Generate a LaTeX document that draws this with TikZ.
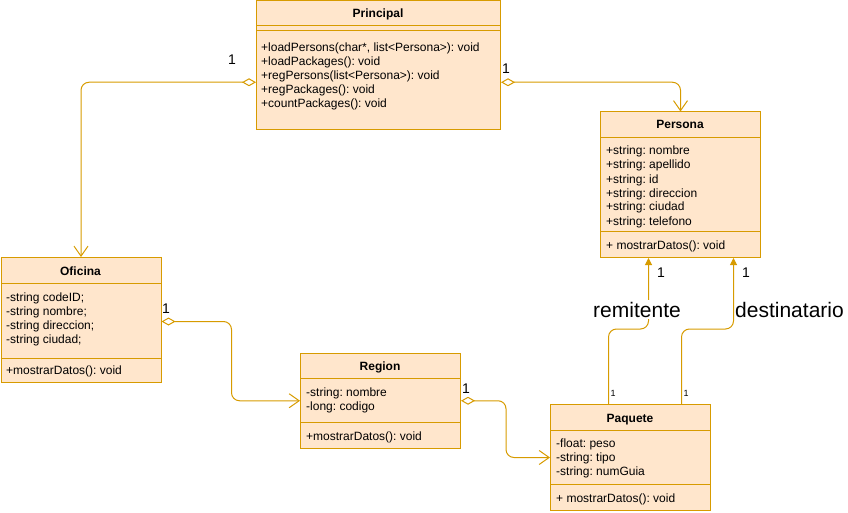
\documentclass[tikz,border=0pt]{standalone}
\usepackage{fontspec}
\setmainfont{Liberation Sans}
\usetikzlibrary{arrows.meta}
\definecolor{cfill}{HTML}{FFE6CC}
\definecolor{cline}{HTML}{D79B00}
\frenchspacing
\tikzset{
  classbox/.style={draw=cline, fill=cfill, line width=1pt, anchor=north west, inner sep=0pt, minimum width=160pt},
  divider/.style={draw=cline, line width=1pt},
  ttl/.style={font=\fontsize{12}{14}\selectfont\bfseries, anchor=base, inner sep=0pt},
  mem/.style={font=\fontsize{12}{14}\selectfont, anchor=base west, inner sep=0pt},
  mult/.style={font=\fontsize{14}{16}\selectfont, anchor=base, inner sep=0pt},
  smult/.style={font=\fontsize{9}{10}\selectfont, anchor=base, inner sep=0pt},
  rolelbl/.style={font=\fontsize{21}{24}\selectfont, inner sep=2pt},
  assoc/.style={draw=cline, line width=1pt, rounded corners=8pt,
    {Diamond[open,fill=white,length=14pt,width=8pt]}-{Straight Barb[length=10pt,width=14pt]}},
  navto/.style={draw=cline, line width=1pt, rounded corners=8pt,
    -{Triangle[length=7pt,width=7pt]}}
}
\begin{document}
\begin{tikzpicture}[x=1pt,y=-1pt]
\useasboundingbox (0,0) rectangle (848,513);
% ---------- classes ----------
\node[classbox, minimum width=244pt, minimum height=129.5pt] (principal) at (256,0) {};
\draw[divider] (256,26) -- (500,26);
\draw[divider] (256,31) -- (500,31);
\node[ttl] (principalT) at (378,18) {Principal};
\node[mem] (pm1) at (261,52) {+loadPersons(char*, list<Persona>): void};
\node[mem] (pm2) at (261,66) {+loadPackages(): void};
\node[mem] (pm3) at (261,80) {+regPersons(list<Persona>): void};
\node[mem] (pm4) at (261,94) {+regPackages(): void};
\node[mem] (pm5) at (261,108) {+countPackages(): void};

\node[classbox, minimum height=145.5pt] (persona) at (600,111.5) {};
\draw[divider] (600,137.7) -- (760,137.7);
\draw[divider] (600,231.7) -- (760,231.7);
\node[ttl] (personaT) at (680,129) {Persona};
\node[mem] (pa1) at (606,155) {+string: nombre};
\node[mem] (pa2) at (606,169) {+string: apellido};
\node[mem] (pa3) at (606,183) {+string: id};
\node[mem] (pa4) at (606,197) {+string: direccion};
\node[mem] (pa5) at (606,211) {+string: ciudad};
\node[mem] (pa6) at (606,225) {+string: telefono};
\node[mem] (pam) at (606,249) {+ mostrarDatos(): void};

\node[classbox, minimum height=125pt] (oficina) at (0.5,257) {};
\draw[divider] (0.5,283) -- (160.5,283);
\draw[divider] (0.5,358) -- (160.5,358);
\node[ttl] (oficinaT) at (80.5,275) {Oficina};
\node[mem] (oa1) at (6,301) {-string codeID;};
\node[mem] (oa2) at (6,315) {-string nombre;};
\node[mem] (oa3) at (6,329) {-string direccion;};
\node[mem] (oa4) at (6,343) {-string ciudad;};
\node[mem] (oam) at (6,374) {+mostrarDatos(): void};

\node[classbox, minimum height=95.5pt] (region) at (300,352.5) {};
\draw[divider] (300,378.7) -- (460,378.7);
\draw[divider] (300,422) -- (460,422);
\node[ttl] (regionT) at (380,370) {Region};
\node[mem] (ra1) at (306,396) {-string: nombre};
\node[mem] (ra2) at (306,410) {-long: codigo};
\node[mem] (ram) at (306,440) {+mostrarDatos(): void};

\node[classbox, minimum height=106pt] (paquete) at (550,404) {};
\draw[divider] (550,430) -- (710,430);
\draw[divider] (550,484) -- (710,484);
\node[ttl] (paqueteT) at (630,422) {Paquete};
\node[mem] (qa1) at (556,447.5) {-float: peso};
\node[mem] (qa2) at (556,461.5) {-string: tipo};
\node[mem] (qa3) at (556,475.5) {-string: numGuia};
\node[mem] (qam) at (556,502) {+ mostrarDatos(): void};

% ---------- connectors ----------
\draw[assoc] ([yshift=-17pt]principal.west) -| (oficina.north);
\draw[assoc] ([yshift=-17pt]principal.east) -| (persona.north);
\draw[assoc] ([yshift=-1.5pt]oficina.east) -- ++(70,0) |- (region.west);
\draw[assoc] (region.east) -- ++(45,0) |- (paquete.west);
\draw[navto] ([xshift=-22pt]paquete.north) -- ++(0,-75) -| ([xshift=-32pt]persona.south);
\draw[navto] ([xshift=51pt]paquete.north) -- ++(0,-75) -| ([xshift=53pt]persona.south);

% ---------- labels ----------
\node[mult] (m1) at (232,65) {1};
\node[mult] (m2) at (506,74) {1};
\node[mult] (m3) at (166,313) {1};
\node[mult] (m4) at (466,393) {1};
\node[mult] (m5) at (661,277) {1};
\node[mult] (m6) at (746,277) {1};
\node[smult] (s1) at (613,396.5) {1};
\node[smult] (s2) at (686,396.5) {1};
\node[rolelbl, fill=white, anchor=base] (remit) at (637,317) {remitente};
\node[rolelbl, anchor=base west, inner sep=0pt] (dest) at (735,317) {destinatario};
\end{tikzpicture}
\end{document}
